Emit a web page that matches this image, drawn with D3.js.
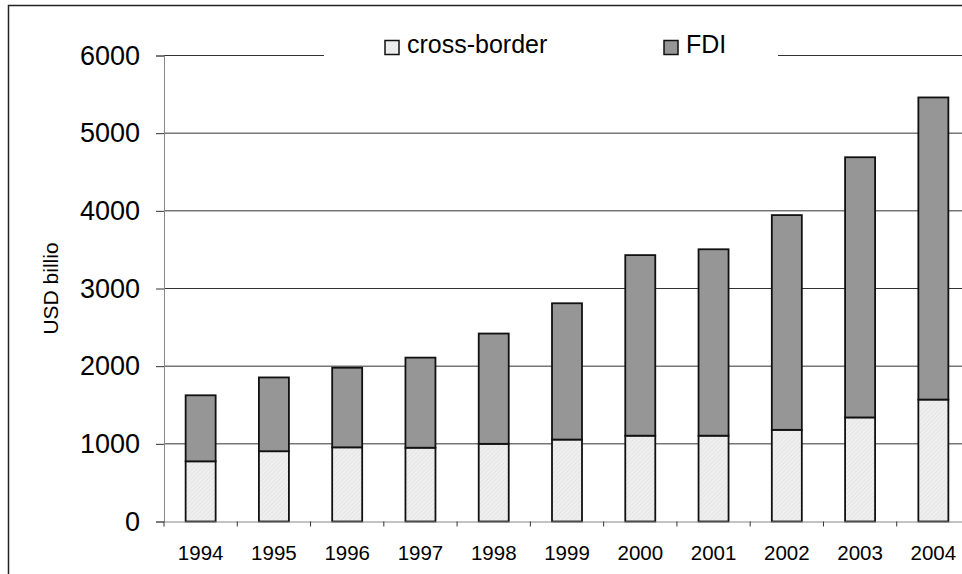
<!DOCTYPE html>
<html>
<head>
<meta charset="utf-8">
<script src="https://cdn.jsdelivr.net/npm/d3@7"></script>
<style>
  body { margin: 0; background: #fff; }
  svg { display: block; }
</style>
</head>
<body>
<div id="chart"></div>
<script>
var years = ["1994", "1995", "1996", "1997", "1998", "1999", "2000", "2001", "2002", "2003", "2004"]
var crossBorder = [775, 905, 955, 950, 1000, 1055, 1105, 1105, 1180, 1340, 1570]
var fdi = [850, 950, 1025, 1160, 1420, 1755, 2325, 2400, 2765, 3350, 3890]
var seriesNames = ["cross-border", "FDI"]
var yTicks = [0, 1000, 2000, 3000, 4000, 5000, 6000]

var svgSize = { width: 962, height: 574 }
var margin = { top: 55.5, left: 164, bottom: 52.5 }
var chartSize = { width: 806, height: 466 }
var font = "'Liberation Sans', Arial, sans-serif"

var svg = d3.select("#chart").append("svg")
            .attr("width", svgSize.width)
            .attr("height", svgSize.height)
            .style("font-family", font)

var defs = svg.append("defs")
var pat = defs.append("pattern")
              .attr("id", "hatch")
              .attr("patternUnits", "userSpaceOnUse")
              .attr("width", 3).attr("height", 3)
              .attr("patternTransform", "rotate(45)")
pat.append("rect").attr("width", 3).attr("height", 3).attr("fill", "#efefef")
pat.append("line").attr("x1", 0).attr("y1", 0).attr("x2", 0).attr("y2", 3)
   .attr("stroke", "#dcdcdc").attr("stroke-width", 1)

var fills = ["url(#hatch)", "#969696"]

// outer frame, cut off on the right and bottom
svg.append("rect")
   .attr("x", 8.5).attr("y", 5.5)
   .attr("width", 1000).attr("height", 700)
   .attr("fill", "none").attr("stroke", "#222").attr("stroke-width", 1.5)

var frame = svg.append("g")
               .attr("transform", `translate(${margin.left}, ${margin.top})`)

var xScale = d3.scaleBand().domain(years).range([0, chartSize.width])
var yScale = d3.scaleLinear().domain([0, 6000]).range([chartSize.height, 0])
var barW = 30

// gridlines
frame.append("g").selectAll("line").data(yTicks.slice(1))
     .enter().append("line")
     .attr("x1", 0).attr("x2", chartSize.width)
     .attr("y1", d => yScale(d)).attr("y2", d => yScale(d))
     .attr("stroke", "#333").attr("stroke-width", 1)

var leftAxis = d3.axisLeft(yScale).tickValues(yTicks).tickFormat(d3.format("d"))
                 .tickSize(8).tickPadding(16)
var yAxis = frame.append("g").call(leftAxis)
yAxis.select(".domain").attr("stroke", "#888")
yAxis.selectAll(".tick line").attr("stroke", "#333")
yAxis.selectAll("text").attr("font-size", 27).attr("font-family", font).attr("fill", "#000")

var stacked = years.map((y, i) => ({ year: y, vals: [crossBorder[i], fdi[i]] }))

var bars = frame.append("g")
stacked.forEach(d => {
    var base = 0
    d.vals.forEach((v, k) => {
        bars.append("rect")
            .attr("x", xScale(d.year) + xScale.bandwidth() / 2 - barW / 2)
            .attr("y", yScale(base + v))
            .attr("width", barW)
            .attr("height", yScale(base) - yScale(base + v))
            .attr("fill", fills[k])
            .attr("stroke", "#111")
            .attr("stroke-width", 1.8)
        base += v
    })
})

// x axis: labels centered, ticks on band edges
var bottomAxis = d3.axisBottom(xScale).tickSize(0).tickPadding(24)
var xAxis = frame.append("g")
                 .attr("transform", `translate(0, ${chartSize.height})`)
                 .call(bottomAxis)
xAxis.select(".domain").attr("stroke", "#888").attr("stroke-width", 1.2)
xAxis.selectAll("text").attr("font-size", 20.5).attr("font-family", font).attr("fill", "#000")
xAxis.selectAll(".edge").data(years)
     .enter().append("line")
     .attr("x1", d => xScale(d)).attr("x2", d => xScale(d))
     .attr("y1", 0).attr("y2", 5)
     .attr("stroke", "#333")

// y title
svg.append("text")
   .attr("transform", `translate(58, ${margin.top + chartSize.height / 2}) rotate(-90)`)
   .attr("text-anchor", "middle")
   .attr("font-size", 21)
   .text("USD billio")

// legend
var legend = svg.append("g")
legend.append("rect")
      .attr("x", 324).attr("y", 30).attr("width", 454).attr("height", 34)
      .attr("fill", "#fff")
var legendX = [385, 664]
seriesNames.forEach((name, k) => {
    legend.append("rect")
          .attr("x", legendX[k]).attr("y", 40.5)
          .attr("width", 14).attr("height", 14)
          .attr("fill", fills[k]).attr("stroke", "#111").attr("stroke-width", 1.5)
    legend.append("text")
          .attr("x", legendX[k] + 22).attr("y", 53)
          .attr("font-size", 25)
          .text(name)
})
</script>
</body>
</html>
